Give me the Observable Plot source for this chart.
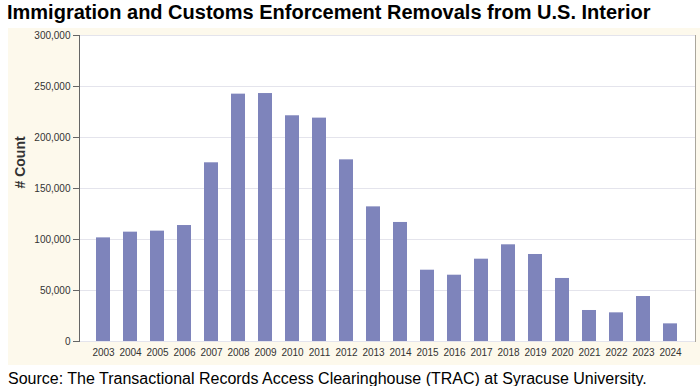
<!DOCTYPE html>
<html>
<head>
<meta charset="utf-8">
<script src="https://cdn.jsdelivr.net/npm/d3@7"></script>
<script src="https://cdn.jsdelivr.net/npm/@observablehq/plot@0.6"></script>
<style>
  html, body { margin: 0; padding: 0; background: #ffffff; }
  body { width: 700px; height: 386px; overflow: hidden; font-family: "Liberation Sans", Arial, sans-serif; }
  #title { position: absolute; left: 7px; top: 0px; font-size: 20px; font-weight: bold; color: #000; white-space: nowrap; line-height: 24px; }
  #chart { position: absolute; left: 8px; top: 28px; }
  #caption { position: absolute; left: 8px; top: 370px; font-size: 16px; color: #000; white-space: nowrap; line-height: 18px; }
</style>
</head>
<body>
<div id="title">Immigration and Customs Enforcement Removals from U.S. Interior</div>
<div id="chart"></div>
<div id="caption">Source: The Transactional Records Access Clearinghouse (TRAC) at Syracuse University.</div>
<script>
const years = ["2003","2004","2005","2006","2007","2008","2009","2010","2011","2012","2013","2014","2015","2016","2017","2018","2019","2020","2021","2022","2023","2024"];
const removals = [101600,107200,108200,113700,175200,242500,243100,221300,219000,178100,132000,116700,69900,65000,80700,94800,85300,61800,30400,28100,44100,17300];
const yTicks = [0,50000,100000,150000,200000,250000,300000];
const yLabel = ["# Count"];

const data = years.map((y, i) => ({year: y, count: removals[i]}));

const chart = Plot.plot({
  width: 692,
  height: 337,
  marginLeft: 71,
  marginRight: 5,
  marginTop: 7,
  marginBottom: 24,
  style: {background: "#fdf9ec", fontFamily: "'Liberation Sans', Arial, sans-serif", fontSize: "10px", color: "#333"},
  x: {type: "band", domain: years, paddingInner: 0.48, paddingOuter: 0.63},
  y: {domain: [0, 300000]},
  marks: [
    Plot.frame({fill: "white", stroke: "#aaa69c"}),
    Plot.gridY(yTicks, {stroke: "#e4e4ec", strokeOpacity: 1}),
    Plot.barY(data, {x: "year", y: "count", fill: "#7e84bb"}),
    Plot.frame({anchor: "left", stroke: "#666"}),
    Plot.axisY(yTicks, {tickFormat: d3.format(","), tickSize: 6, tickPadding: 3, stroke: "#666", label: null, fill: "#333"}),
    Plot.axisX({tickSize: 0, tickPadding: 7, label: null, fill: "#333"}),
    Plot.text(yLabel, {frameAnchor: "left", dx: -59, rotate: -90, fontWeight: "bold", fontSize: 14, fill: "#333"})
  ]
});
document.getElementById("chart").appendChild(chart);
</script>
</body>
</html>
